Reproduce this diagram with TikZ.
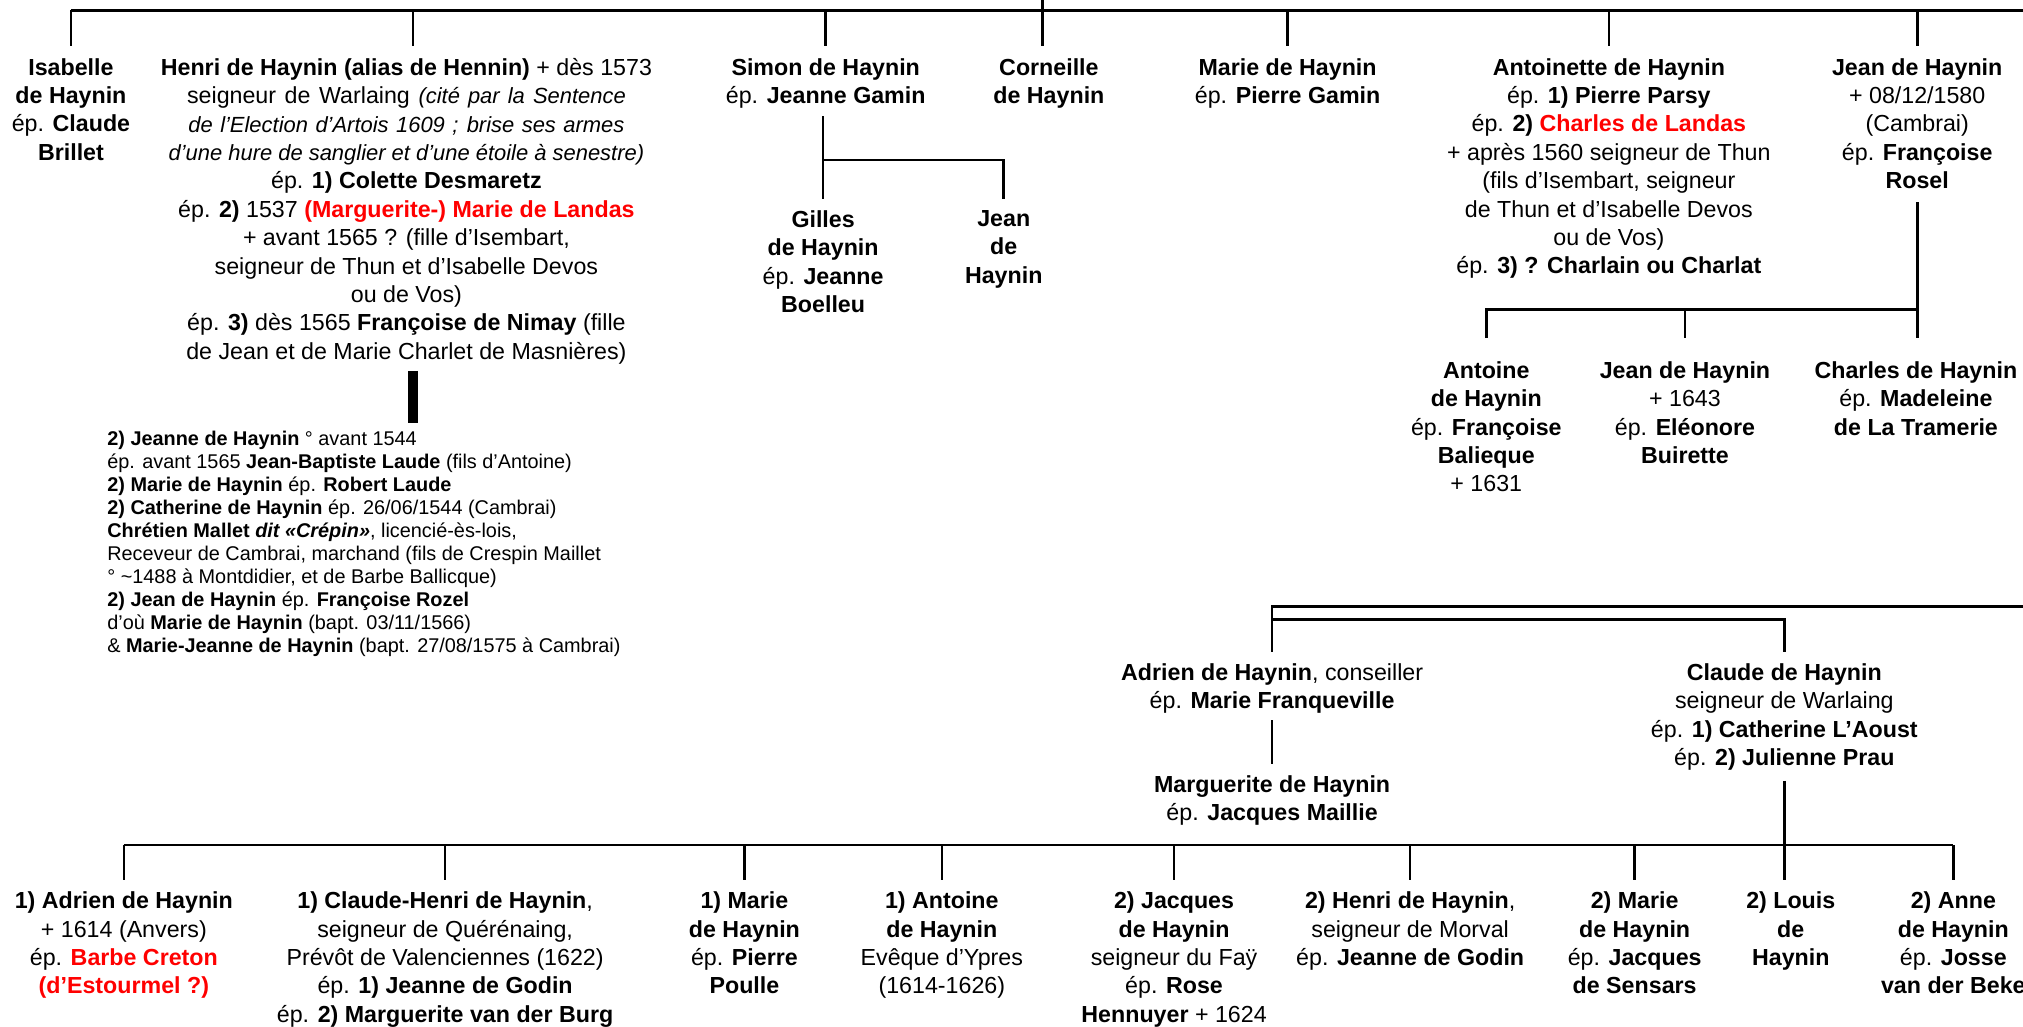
\documentclass[tikz,border=0pt]{standalone}
\usepackage{fontspec}
\setmainfont{Liberation Sans}
\usetikzlibrary{calc}
\definecolor{rd}{RGB}{255,0,0}
\newcommand{\fsmain}{\fontsize{18}{22}\selectfont}
\newcommand{\fssmall}{\fontsize{15.4}{17.8}\selectfont}
\newcommand{\itsm}[1]{{\fontsize{17}{22}\selectfont\itshape #1}}
\begin{document}
\begin{tikzpicture}[x=1pt,y=-1pt,
  person/.style={align=center, anchor=north, inner sep=0pt, font=\fsmain},
  kidsblock/.style={align=left, anchor=north west, inner sep=0pt, font=\fssmall},
  conn/.style={line width=2pt},
  bar/.style={line width=8pt}]
\useasboundingbox (0,0) rectangle (1568,796);
\coordinate (parent) at (808,0);
\coordinate (topbus) at (0,8);
\coordinate (topR) at (1568,8);
\coordinate (sbus) at (0,124);
\coordinate (jbus) at (0,240);
\coordinate (lbus1) at (0,470);
\coordinate (lbus2) at (0,480);
\coordinate (lowR) at (1568,470);
\coordinate (bbus) at (0,655);

% ---------- first generation ----------
\node[person] (isabelle) at (55,45) {\textbf{Isabelle}\\\textbf{de Haynin}\\ép. \textbf{Claude}\\\textbf{Brillet}};
\node[person] (henri) at (315,45) {\textbf{Henri de Haynin (alias de Hennin)} + dès 1573\\
\makebox[340pt][s]{seigneur de Warlaing \itsm{(cité par la Sentence}}\\
\makebox[338pt][s]{\itsm{de l’Election d’Artois 1609 ; brise ses armes}}\\
\itsm{d’une hure de sanglier et d’une étoile à senestre)}\\
ép. \textbf{1) Colette Desmaretz}\\
ép. \textbf{2)} 1537 \textcolor{rd}{\textbf{(Marguerite-) Marie de Landas}}\\
+ avant 1565 ? (fille d’Isembart,\\
seigneur de Thun et d’Isabelle Devos\\
ou de Vos)\\
ép. \textbf{3)} dès 1565 \textbf{Françoise de Nimay} (fille\\
de Jean et de Marie Charlet de Masnières)};
\node[person] (simon) at (640,45) {\textbf{Simon de Haynin}\\ép. \textbf{Jeanne Gamin}};
\node[person] (corneille) at (813,45) {\textbf{Corneille}\\\textbf{de Haynin}};
\node[person] (marieA) at (998,45) {\textbf{Marie de Haynin}\\ép. \textbf{Pierre Gamin}};
\node[person] (antoinette) at (1247,45) {\textbf{Antoinette de Haynin}\\
ép. \textbf{1) Pierre Parsy}\\
ép. \textbf{2) \textcolor{rd}{Charles de Landas}}\\
+ après 1560 seigneur de Thun\\
(fils d’Isembart, seigneur\\
de Thun et d’Isabelle Devos\\
ou de Vos)\\
ép. \textbf{3) ? Charlain ou Charlat}};
\node[person] (jeanA) at (1486,45) {\textbf{Jean de Haynin}\\+ 08/12/1580\\(Cambrai)\\ép. \textbf{Françoise}\\\textbf{Rosel}};

\draw[conn] (isabelle.north |- topbus) -- (topR);
\draw[conn] (parent) -- ($(parent |- corneille.north)+(0,-9)$);
\foreach \n in {isabelle,simon,marieA,antoinette,jeanA}
  \draw[conn] (\n.north |- topbus) -- ($(\n.north)+(0,-9)$);
\draw[conn] ($(henri.north |- topbus)+(5,0)$) -- ($(henri.north)+(5,-9)$);

% ---------- Simon's children ----------
\node[person] (gilles) at (638,163) {\textbf{Gilles}\\\textbf{de Haynin}\\ép. \textbf{Jeanne}\\\textbf{Boelleu}};
\node[person] (jeanS) at (778,163) {\textbf{Jean}\\\textbf{de}\\\textbf{Haynin}};
\draw[conn] ($(simon.south -| gilles.north)+(0,6)$) -- ($(gilles.north)+(0,-9)$);
\draw[conn] (gilles.north |- sbus) -| ($(jeanS.north)+(0,-9)$);

% ---------- Henri's children ----------
\node[kidsblock] (kids) at (83,334) {\textbf{2) Jeanne de Haynin} ° avant 1544\\
ép. avant 1565 \textbf{Jean-Baptiste Laude} (fils d’Antoine)\\
\textbf{2) Marie de Haynin} ép. \textbf{Robert Laude}\\
\textbf{2) Catherine de Haynin} ép. 26/06/1544 (Cambrai)\\
\textbf{Chrétien Mallet \textit{dit «Crépin»}}, licencié-ès-lois,\\
Receveur de Cambrai, marchand (fils de Crespin Maillet\\
° \textasciitilde 1488 à Montdidier, et de Barbe Ballicque)\\
\textbf{2) Jean de Haynin} ép. \textbf{Françoise Rozel}\\
d’où \textbf{Marie de Haynin} (bapt. 03/11/1566)\\
\& \textbf{Marie-Jeanne de Haynin} (bapt. 27/08/1575 à Cambrai)};
\draw[bar] ($(henri.south)+(5,5)$) -- ($(henri.south |- kids.north)+(5,-6)$);

% ---------- Jean's children ----------
\node[person] (antoineJ) at (1152,280) {\textbf{Antoine}\\\textbf{de Haynin}\\ép. \textbf{Françoise}\\\textbf{Balieque}\\+ 1631};
\node[person] (jeanJ) at (1306,280) {\textbf{Jean de Haynin}\\+ 1643\\ép. \textbf{Eléonore}\\\textbf{Buirette}};
\node[person] (charlesJ) at (1485,280) {\textbf{Charles de Haynin}\\ép. \textbf{Madeleine}\\\textbf{de La Tramerie}};
\draw[conn] ($(jeanA.south)+(0,10)$) -- ($(jeanA.south |- charlesJ.north)+(0,-18)$);
\draw[conn] ($(antoineJ.north)+(0,-18)$) |- (jeanA.south |- jbus);
\draw[conn] (jeanJ.north |- jbus) -- ($(jeanJ.north)+(0,-18)$);

% ---------- lower part ----------
\node[person] (adrien) at (986,514) {\textbf{Adrien de Haynin}, conseiller\\ép. \textbf{Marie Franqueville}};
\node[person] (claude) at (1383,514) {\textbf{Claude de Haynin}\\seigneur de Warlaing\\ép. \textbf{1) Catherine L’Aoust}\\ép. \textbf{2) Julienne Prau}};
\node[person] (marguerite) at (986,601) {\textbf{Marguerite de Haynin}\\ép. \textbf{Jacques Maillie}};
\draw[conn] (lowR) -- (adrien.north |- lbus1) -- ($(adrien.north)+(0,-9)$);
\draw[conn] (adrien.north |- lbus2) -| ($(claude.north)+(0,-9)$);
\draw[conn] ($(adrien.south)+(0,5)$) -- ($(marguerite.north)+(0,-9)$);

% ---------- bottom row ----------
\node[person] (b1) at (96,691) {\textbf{1) Adrien de Haynin}\\+ 1614 (Anvers)\\ép. \textcolor{rd}{\textbf{Barbe Creton}}\\\textcolor{rd}{\textbf{(d’Estourmel ?)}}};
\node[person] (b2) at (345,691) {\textbf{1) Claude-Henri de Haynin},\\seigneur de Quérénaing,\\Prévôt de Valenciennes (1622)\\ép. \textbf{1) Jeanne de Godin}\\ép. \textbf{2) Marguerite van der Burg}};
\node[person] (b3) at (577,691) {\textbf{1) Marie}\\\textbf{de Haynin}\\ép. \textbf{Pierre}\\\textbf{Poulle}};
\node[person] (b4) at (730,691) {\textbf{1) Antoine}\\\textbf{de Haynin}\\Evêque d’Ypres\\(1614-1626)};
\node[person] (b5) at (910,691) {\textbf{2) Jacques}\\\textbf{de Haynin}\\seigneur du Faÿ\\ép. \textbf{Rose}\\\textbf{Hennuyer} + 1624};
\node[person] (b6) at (1093,691) {\textbf{2) Henri de Haynin},\\seigneur de Morval\\ép. \textbf{Jeanne de Godin}};
\node[person] (b7) at (1267,691) {\textbf{2) Marie}\\\textbf{de Haynin}\\ép. \textbf{Jacques}\\\textbf{de Sensars}};
\node[person] (b8) at (1388,691) {\textbf{2) Louis}\\\textbf{de}\\\textbf{Haynin}};
\node[person] (b9) at (1514,691) {\textbf{2) Anne}\\\textbf{de Haynin}\\ép. \textbf{Josse}\\\textbf{van der Beke}};
\draw[conn] (b1.north |- bbus) -- (b9.north |- bbus);
\draw[conn] ($(claude.south)+(0,8)$) -- ($(claude.south |- b8.north)+(0,-9)$);
\foreach \n in {b1,b2,b3,b4,b5,b6,b7,b9}
  \draw[conn] (\n.north |- bbus) -- ($(\n.north)+(0,-9)$);
\end{tikzpicture}
\end{document}
